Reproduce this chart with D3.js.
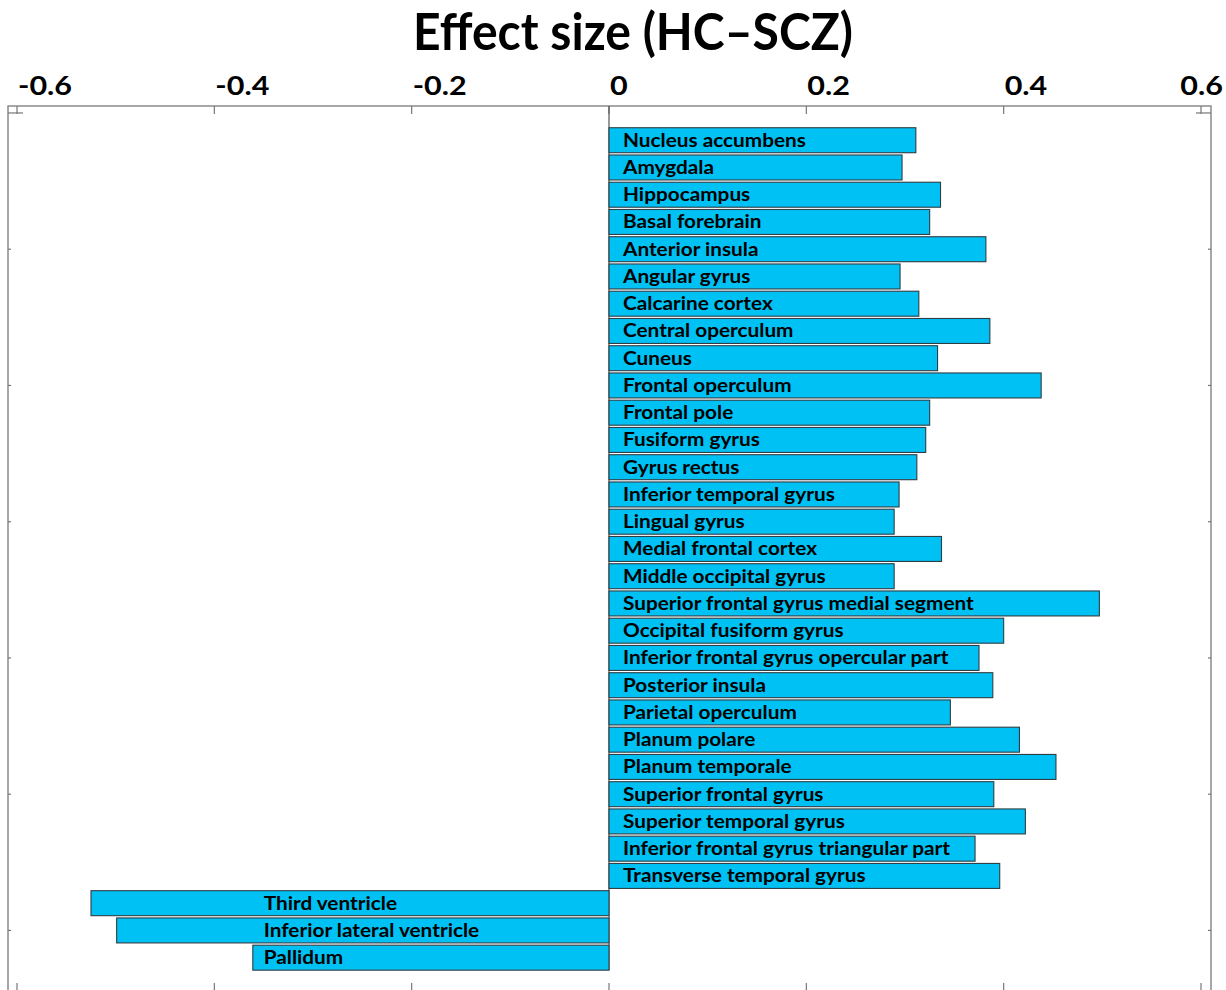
<!DOCTYPE html>
<html>
<head>
<meta charset="utf-8">
<script src="https://cdn.jsdelivr.net/npm/d3@7"></script>
<style>
  html, body { margin: 0; padding: 0; background: #ffffff; }
  svg { display: block; }
  text { font-family: Lato, "Open Sans", "DejaVu Sans", sans-serif; font-weight: 700; fill: #000; }
</style>
</head>
<body>
<div id="chart"></div>
<script>
// ---- data ----
const regions = [
  "Nucleus accumbens", "Amygdala", "Hippocampus", "Basal forebrain", "Anterior insula",
  "Angular gyrus", "Calcarine cortex", "Central operculum", "Cuneus", "Frontal operculum",
  "Frontal pole", "Fusiform gyrus", "Gyrus rectus", "Inferior temporal gyrus", "Lingual gyrus",
  "Medial frontal cortex", "Middle occipital gyrus", "Superior frontal gyrus medial segment",
  "Occipital fusiform gyrus", "Inferior frontal gyrus opercular part", "Posterior insula",
  "Parietal operculum", "Planum polare", "Planum temporale", "Superior frontal gyrus",
  "Superior temporal gyrus", "Inferior frontal gyrus triangular part", "Transverse temporal gyrus",
  "Third ventricle", "Inferior lateral ventricle", "Pallidum"
];
const effectSizes = [
  0.311, 0.297, 0.336, 0.325, 0.382,
  0.295, 0.314, 0.386, 0.333, 0.438,
  0.325, 0.321, 0.312, 0.294, 0.289,
  0.337, 0.289, 0.497,
  0.400, 0.375, 0.389,
  0.346, 0.416, 0.453, 0.390,
  0.422, 0.371, 0.396,
  -0.525, -0.499, -0.361
];
const xTicks = [-0.6, -0.4, -0.2, 0, 0.2, 0.4, 0.6];
const xTickLabels = ["-0.6", "-0.4", "-0.2", "0", "0.2", "0.4", "0.6"];
const yTickIdx = [0, 5, 10, 15, 20, 25, 30];
const title = "Effect size (HC\u2013SCZ)";

// ---- layout ----
const W = 1226, H = 990;
const frame = { left: 8, right: 1211, top: 106, bottom: 992 };

const svg = d3.select("#chart").append("svg").attr("width", W).attr("height", H);

const x = d3.scaleLinear().domain([-0.6, 0.6]).range([17, 1201]);
const y = d3.scaleBand().domain(regions).range([126.6, 971.3]).paddingInner(0.083).paddingOuter(0.0415);
const yLin = d3.scaleLinear().domain([1, regions.length])
  .range([y(regions[0]) + y.bandwidth() / 2, y(regions[regions.length - 1]) + y.bandwidth() / 2]);

// stretch text horizontally (reference font is wider than the available ones)
function stretch(sel, k) {
  sel.each(function () {
    const w = this.getComputedTextLength();
    d3.select(this).attr("textLength", w * k).attr("lengthAdjust", "spacingAndGlyphs");
  });
}

// frame
svg.append("rect")
  .attr("x", frame.left).attr("y", frame.top)
  .attr("width", frame.right - frame.left).attr("height", frame.bottom - frame.top)
  .attr("fill", "none").attr("stroke", "#8a8a8a").attr("stroke-width", 1.5);

// top / bottom x ticks
const gx = svg.append("g");
gx.selectAll("line.top").data(xTicks).join("line")
  .attr("x1", d => x(d)).attr("x2", d => x(d))
  .attr("y1", frame.top).attr("y2", frame.top + 8)
  .attr("stroke", "#777").attr("stroke-width", 1.2);
gx.selectAll("line.bot").data(xTicks).join("line")
  .attr("x1", d => x(d)).attr("x2", d => x(d))
  .attr("y1", frame.bottom - 9).attr("y2", frame.bottom)
  .attr("stroke", "#777").attr("stroke-width", 1.2);

// tick labels
const tl = gx.selectAll("text").data(xTicks).join("text")
  .attr("x", (d, i) => i === xTicks.length - 1 ? x(d) + 22 : x(d) + 1)
  .attr("y", 95)
  .attr("text-anchor", (d, i) => i === xTicks.length - 1 ? "end" : "start")
  .attr("font-size", 27)
  .text((d, i) => xTickLabels[i]);
stretch(tl, 1.13);

// left / right y ticks
const gy = svg.append("g");
gy.selectAll("line.l").data(yTickIdx).join("line")
  .attr("x1", frame.left).attr("x2", (d, i) => frame.left + (i === 0 ? 15 : 3))
  .attr("y1", d => yLin(d)).attr("y2", d => yLin(d))
  .attr("stroke", "#777").attr("stroke-width", 1.2);
gy.selectAll("line.r").data(yTickIdx).join("line")
  .attr("x1", frame.right).attr("x2", (d, i) => frame.right - (i === 0 ? 15 : 3))
  .attr("y1", d => yLin(d)).attr("y2", d => yLin(d))
  .attr("stroke", "#777").attr("stroke-width", 1.2);

// zero line
svg.append("line")
  .attr("x1", x(0)).attr("x2", x(0))
  .attr("y1", frame.top).attr("y2", y(regions[regions.length - 1]) + y.bandwidth())
  .attr("stroke", "#555").attr("stroke-width", 1.2);

// bars
const data = regions.map((r, i) => ({ r, v: effectSizes[i] }));
svg.append("g").selectAll("rect").data(data).join("rect")
  .attr("x", d => x(Math.min(0, d.v)))
  .attr("y", d => y(d.r))
  .attr("width", d => Math.abs(x(d.v) - x(0)))
  .attr("height", y.bandwidth())
  .attr("fill", "#00C1F4")
  .attr("stroke", "#2f3d44").attr("stroke-width", 1.1);

// bar labels
const bl = svg.append("g").selectAll("text").data(data).join("text")
  .attr("x", d => d.v >= 0 ? x(0) + 14 : x(-0.35))
  .attr("y", d => y(d.r) + y.bandwidth() / 2 + 6.5)
  .attr("font-size", 19.5)
  .text(d => d.r);
stretch(bl, 1.065);

// title
const tt = svg.append("text")
  .attr("x", 633).attr("y", 50)
  .attr("text-anchor", "middle")
  .attr("font-size", 51)
  .text(title);
tt.attr("textLength", 440).attr("lengthAdjust", "spacingAndGlyphs");
</script>
</body>
</html>
